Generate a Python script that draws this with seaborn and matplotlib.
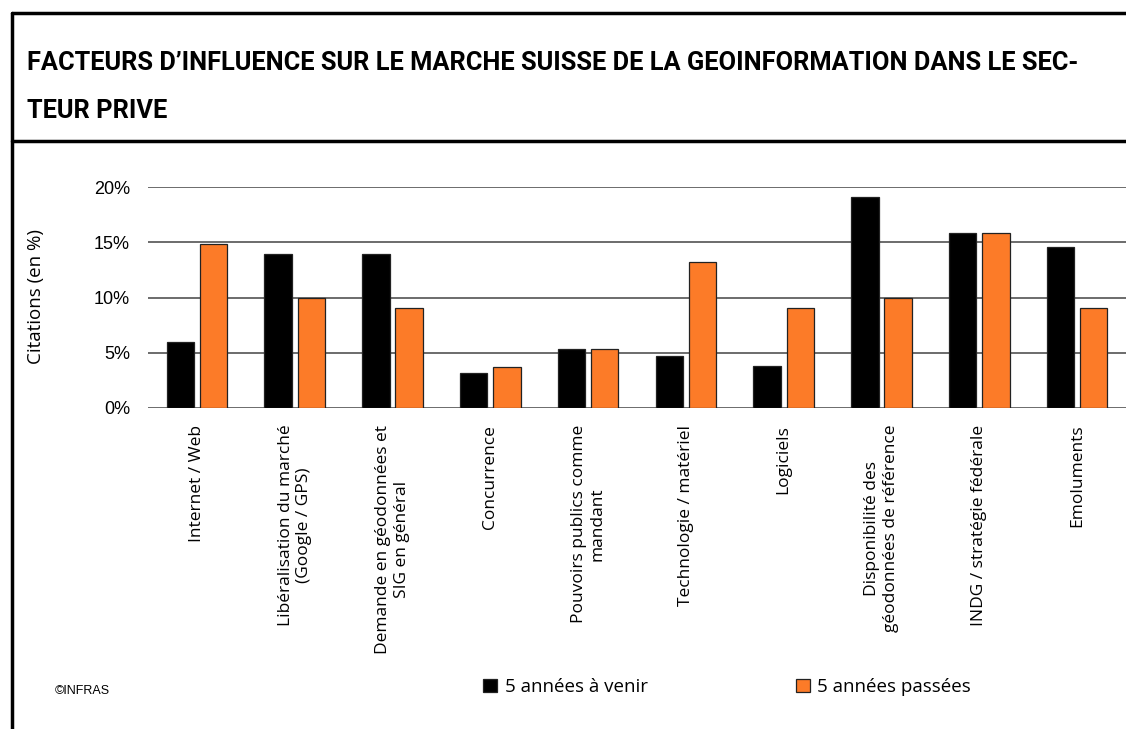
import matplotlib
matplotlib.use('Agg')
import matplotlib.pyplot as plt
from matplotlib.lines import Line2D
import pandas as pd
import seaborn as sns

# categories and values (percent of citations)
categories = [
    "Internet / Web",
    "Libéralisation du marché\n(Google / GPS)",
    "Demande en géodonnées et\nSIG en général",
    "Concurrence",
    "Pouvoirs publics comme\nmandant",
    "Technologie / matériel",
    "Logiciels",
    "Disponibilité des\ngéodonnées de référence",
    "INDG / stratégie fédérale",
    "Emoluments",
]
future_5y = [6.0, 13.9, 13.9, 3.2, 5.3, 4.7, 3.8, 19.1, 15.8, 14.6]
past_5y = [14.8, 10.0, 9.05, 3.7, 5.3, 13.2, 9.05, 10.0, 15.8, 9.05]
series_names = ["5 années à venir", "5 années passées"]
yticks = [0, 5, 10, 15, 20]

df = pd.DataFrame({
    "facteur": categories * 2,
    "periode": [series_names[0]] * len(categories) + [series_names[1]] * len(categories),
    "valeur": future_5y + past_5y,
})

sns.set_theme(style="white")
plt.rcParams['font.family'] = ['Open Sans', 'DejaVu Sans']
for key in ["text.color", "axes.labelcolor", "xtick.color", "ytick.color"]:
    plt.rcParams[key] = "black"

W, H = 1126, 729
fig = plt.figure(figsize=(W / 100, H / 100), dpi=100)
ax = fig.add_axes([148 / W, 1 - 408 / H, 1 - 148 / W, (408 - 187) / H])

sns.barplot(data=df, x="facteur", y="valeur", hue="periode", order=categories,
            hue_order=series_names, palette=["#000000", "#FC7B28"], saturation=1,
            width=0.68, gap=0.18, edgecolor="#222222", linewidth=0.9,
            ax=ax, zorder=3)

ax.set_ylim(0, 20)
ax.set_xlim(-0.5, len(categories) - 0.5)
ax.set_yticks(yticks)
ax.set_yticklabels([f"{v}%" for v in yticks], family="Liberation Sans", fontsize=13)
ax.yaxis.grid(True, color="#444444", linewidth=1.1)
ax.set_axisbelow(True)
for s in ax.spines.values():
    s.set_visible(False)
ax.tick_params(axis="both", length=0)
ax.tick_params(axis="y", pad=13)
ax.set_xlabel("")
ax.set_ylabel("")
fig.text(36 / W, 1 - 297 / H, "Citations (en %)", fontsize=13.5, rotation=90,
         ha="center", va="center")
for lbl in ax.get_xticklabels():
    lbl.set_rotation(90)
    lbl.set_multialignment("center")
    lbl.set_fontsize(12.5)
ax.tick_params(axis="x", pad=12)

# legend at the bottom
sns.move_legend(ax, "center", bbox_to_anchor=(727 / W, 1 - 687 / H),
                bbox_transform=fig.transFigure, ncol=2, frameon=False,
                title=None, fontsize=13.5, columnspacing=7.9, handlelength=0.75,
                handleheight=0.75, handletextpad=0.4)

fig.text(55 / W, 1 - 691 / H, "©INFRAS", family="Liberation Sans",
         fontsize=9, va="center")

# header box, title sized to fit the width of the reference line
line1 = "FACTEURS D\u2019INFLUENCE SUR LE MARCHE SUISSE DE LA GEOINFORMATION DANS LE SEC-"
line2 = "TEUR PRIVE"
t1 = fig.text(27 / W, 1 - 70 / H, line1, family="Roboto", fontweight="bold",
              fontsize=17, va="baseline")
t2 = fig.text(27 / W, 1 - 118 / H, line2, family="Roboto", fontweight="bold",
              fontsize=17, va="baseline")
renderer = fig.canvas.get_renderer()
width = t1.get_window_extent(renderer).width
size = 17 * 1053 / width
t1.set_fontsize(size)
t2.set_fontsize(size)

fig.add_artist(Line2D([12 / W, 1], [1 - 12.5 / H] * 2, color="black", lw=2.5,
                      transform=fig.transFigure))
fig.add_artist(Line2D([12 / W, 1], [1 - 141 / H] * 2, color="black", lw=2.5,
                      transform=fig.transFigure))
fig.add_artist(Line2D([12 / W] * 2, [1 - 12.5 / H, 0], color="black", lw=2.5,
                      transform=fig.transFigure))

fig.savefig("out.png", dpi=100)
